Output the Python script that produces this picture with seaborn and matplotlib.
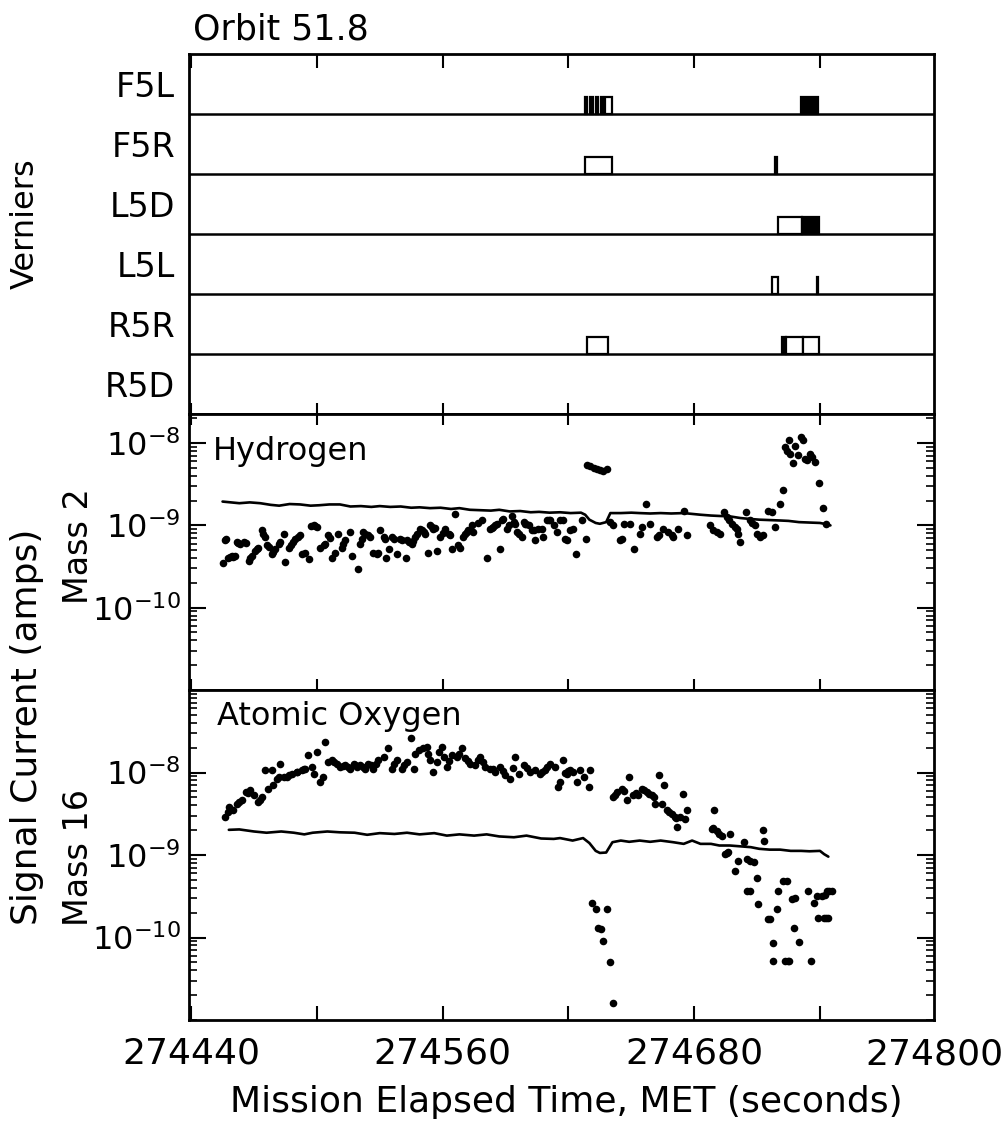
import numpy as np
import pandas as pd
import matplotlib
matplotlib.use("Agg")
import matplotlib.pyplot as plt
import matplotlib.ticker as mticker
import seaborn as sns

# vernier thruster firings (MET seconds)
vernier_rows = ["F5L", "F5R", "L5D", "L5L", "R5R", "R5D"]
fire_jet = ["F5L", "F5L", "F5L", "F5L", "F5L", "F5L",
            "F5R", "F5R",
            "L5D", "L5D",
            "L5L", "L5L",
            "R5R", "R5R", "R5R", "R5R"]
fire_start = [274628, 274630.5, 274633, 274635.5, 274637.5, 274731,
              274628, 274718.5,
              274720, 274731.5,
              274717, 274738.8,
              274629, 274722, 274724, 274732]
fire_end = [274629, 274631.5, 274634, 274636.5, 274641, 274739,
            274641, 274719.5,
            274731.5, 274739.5,
            274720, 274739.3,
            274639, 274724, 274732, 274739.5]
fire_solid = [1, 1, 1, 1, 0, 1, 0, 1, 0, 1, 0, 1, 0, 1, 0, 0]

# mass 2 (hydrogen) background level, log10 amps
h2_bg_time = [274455, 274459, 274463, 274468, 274473, 274478, 274482, 274487, 274492, 274497,
              274501, 274506, 274511, 274516, 274521, 274526, 274530, 274535, 274540, 274545,
              274549, 274554, 274559, 274564, 274568, 274573, 274578, 274583, 274587, 274592,
              274597, 274602, 274606, 274611, 274616, 274621, 274626, 274628, 274630, 274633,
              274635, 274638, 274640, 274645, 274650, 274654, 274659, 274664, 274669, 274675,
              274679, 274683, 274688, 274692, 274697, 274702, 274706, 274711, 274716, 274721,
              274725, 274730, 274735, 274740, 274743, 274745]
h2_bg_log = [-8.71, -8.72, -8.73, -8.72, -8.73, -8.75, -8.76, -8.74, -8.745, -8.76,
             -8.755, -8.745, -8.745, -8.77, -8.765, -8.775, -8.765, -8.775, -8.77, -8.785,
             -8.78, -8.79, -8.785, -8.80, -8.79, -8.81, -8.815, -8.82, -8.81, -8.83,
             -8.825, -8.84, -8.835, -8.845, -8.84, -8.85, -8.845, -8.87, -8.93, -8.97,
             -8.98, -8.96, -8.85, -8.85, -8.845, -8.85, -8.855, -8.85, -8.855, -8.85,
             -8.86, -8.87, -8.88, -8.885, -8.89, -8.91, -8.92, -8.93, -8.935, -8.94,
             -8.945, -8.96, -8.965, -8.97, -8.985, -9.0]

# mass 2 (hydrogen) measurements, log10 amps
h2_time = [274455.0, 274456.2, 274457.8, 274459.4, 274461.0, 274461.8, 274463.4, 274465.0, 274467.4, 274469.0,
           274470.6, 274472.1, 274473.7, 274475.3, 274476.1, 274478.5, 274480.1, 274481.7, 274484.1, 274484.9,
           274486.5, 274488.8, 274491.2, 274492.8, 274494.4, 274496.3, 274498.4, 274500.0, 274501.6, 274503.2,
           274505.5, 274507.1, 274508.7, 274510.3, 274511.9, 274513.5, 274515.6, 274516.7, 274519.4, 274520.6,
           274522.2, 274524.6, 274527.0, 274528.6, 274530.2, 274531.8, 274533.0, 274534.2, 274535.7, 274538.1,
           274539.7, 274542.4, 274542.9, 274545.3, 274546.9, 274549.3, 274550.9, 274552.8, 274554.0, 274555.6,
           274557.2, 274558.8, 274561.2, 274562.8, 274564.4, 274566.0, 274568.3, 274569.9, 274571.5, 274573.9,
           274574.7, 274578.7, 274581.1, 274582.6, 274584.2, 274585.8, 274587.4, 274589.0, 274590.6, 274593.0,
           274594.6, 274595.4, 274597.8, 274598.6, 274601.0, 274602.6, 274604.1, 274605.7,
           274458.6, 274466.0, 274477.0, 274487.5, 274497.3, 274521.4, 274536.9, 274544.0, 274547.8, 274550.0,
           274555.0, 274560.0, 274570.7, 274577.0, 274583.4, 274591.8, 274596.6, 274600.0,
           274456.8, 274460.2, 274462.6, 274468.2, 274471.4, 274474.5, 274479.3, 274482.5, 274489.6, 274492.0,
           274499.2, 274504.0, 274506.3, 274512.7, 274523.0, 274525.4, 274529.4, 274532.6, 274540.5, 274545.9,
           274551.7, 274556.4, 274563.6, 274567.2, 274572.3, 274585.0, 274588.2, 274594.0, 274599.4, 274603.4,
           274607.3, 274608.1, 274609.7, 274611.3, 274612.9, 274614.5, 274616.0, 274617.6, 274619.2, 274620.8,
           274622.4, 274623.7, 274626.4, 274628.4, 274639.9, 274641.5, 274644.7, 274646.3, 274649.4, 274651.3,
           274654.2, 274655.0, 274656.9, 274659.0, 274662.2, 274665.3, 274667.7, 274670.1, 274672.5, 274674.9,
           274676.5, 274687.6, 274689.2, 274692.4, 274694.0, 274695.5, 274697.9, 274700.3, 274701.1, 274701.9,
           274704.8, 274706.7, 274709.1, 274711.4, 274713.0, 274715.4, 274717.0, 274718.6, 274721.0, 274722.6,
           274724.2, 274725.0, 274727.3, 274728.1, 274729.7, 274730.8, 274732.1, 274733.7, 274735.3, 274737.7,
           274739.7, 274741.6, 274742.9, 274723.4, 274725.8, 274733.0, 274736.1,
           274610.5, 274618.4, 274645.5, 274663.0, 274669.3, 274690.8, 274696.7, 274699.5, 274707.5, 274710.2,
           274628.8, 274630.4, 274632.0, 274633.5, 274635.1, 274636.7, 274638.3]
h2_log = [-9.46, -9.18, -9.39, -9.37, -9.37, -9.20, -9.22, -9.20, -9.43, -9.37,
          -9.31, -9.27, -9.06, -9.14, -9.24, -9.35, -9.29, -9.22, -9.10, -9.45,
          -9.27, -9.20, -9.14, -9.35, -9.33, -9.41, -9.00, -9.02, -9.27, -9.24,
          -9.12, -9.39, -9.33, -9.10, -9.27, -9.18, -9.08, -9.37, -9.53, -9.22,
          -9.08, -9.12, -9.33, -9.35, -9.06, -9.14, -9.39, -9.29, -9.14, -9.35,
          -9.16, -9.39, -9.18, -9.22, -9.14, -9.04, -9.08, -9.33, -9.00, -9.04,
          -9.31, -9.14, -9.04, -9.10, -9.29, -8.86, -9.27, -9.14, -9.08, -9.00,
          -9.08, -8.94, -9.39, -9.04, -9.02, -8.98, -9.29, -8.92, -9.04, -8.88,
          -8.98, -9.08, -9.14, -8.96, -9.00, -9.06, -9.18, -9.04,
          -9.38, -9.21, -9.26, -9.24, -9.01, -9.16, -9.17, -9.20, -9.11, -9.06,
          -9.02, -9.09, -9.11, -8.97, -9.03, -8.99, -9.11, -8.98,
          -9.17, -9.38, -9.21, -9.40, -9.29, -9.10, -9.32, -9.20, -9.17, -9.12,
          -9.01, -9.22, -9.15, -9.22, -9.10, -9.14, -9.33, -9.16, -9.18, -9.19,
          -9.10, -9.03, -9.12, -9.24, -9.06, -9.00, -8.93, -8.96, -8.98, -9.05,
          -9.04, -9.14, -8.94, -8.94, -9.00, -9.08, -8.94, -8.94, -9.18, -9.06,
          -9.04, -9.35, -8.94, -9.16, -8.96, -9.00, -9.18, -8.98, -8.98, -9.29,
          -9.10, -9.02, -8.74, -8.98, -9.14, -9.04, -9.08, -9.14, -9.04, -8.82,
          -9.12, -9.00, -9.06, -9.10, -8.84, -8.90, -8.98, -9.04, -9.10, -9.20,
          -8.84, -8.94, -9.00, -9.14, -9.12, -8.82, -8.84, -9.02, -8.74, -8.57,
          -8.09, -7.96, -8.24, -8.03, -8.15, -7.92, -7.96, -8.21, -8.13, -8.23,
          -8.49, -8.79, -8.98, -8.05, -8.13, -8.19, -8.17,
          -8.94, -9.16, -9.16, -9.12, -9.12, -9.08, -8.94, -9.02, -8.97, -9.10,
          -8.26, -8.28, -8.30, -8.31, -8.33, -8.34, -8.32]

# mass 16 (atomic oxygen) background level, log10 amps
o_bg_time = [274458, 274463, 274470, 274476, 274483, 274489, 274494, 274498, 274505, 274511,
             274518, 274524, 274530, 274537, 274543, 274549, 274556, 274562, 274568, 274575,
             274581, 274587, 274594, 274600, 274607, 274613, 274616, 274622, 274627, 274630,
             274633, 274635, 274638, 274641, 274645, 274649, 274654, 274659, 274664, 274670,
             274675, 274679, 274683, 274688, 274692, 274697, 274702, 274707, 274711, 274716,
             274721, 274726, 274731, 274735, 274740, 274742, 274744]
o_bg_log = [-8.695, -8.69, -8.715, -8.73, -8.715, -8.73, -8.75, -8.73, -8.715, -8.725,
            -8.73, -8.755, -8.735, -8.745, -8.73, -8.75, -8.735, -8.765, -8.75, -8.765,
            -8.75, -8.775, -8.785, -8.765, -8.80, -8.805, -8.795, -8.825, -8.795, -8.855,
            -8.95, -8.975, -8.97, -8.845, -8.825, -8.84, -8.825, -8.84, -8.825, -8.845,
            -8.865, -8.825, -8.865, -8.865, -8.885, -8.885, -8.895, -8.905, -8.925, -8.935,
            -8.935, -8.95, -8.95, -8.955, -8.95, -8.99, -9.02]

# mass 16 (atomic oxygen) measurements, log10 amps
o_time = [274456.2, 274457.4, 274458.3, 274460.2, 274461.8, 274464.2, 274466.3, 274468.2, 274469.8, 274471.7,
          274473.7, 274475.3, 274476.9, 274478.5, 274479.3, 274480.9, 274482.5, 274484.1, 274485.7, 274488.0,
          274490.4, 274492.8, 274494.4, 274496.0, 274497.6, 274498.4, 274500.0, 274501.6, 274502.8, 274504.0,
          274505.5, 274507.1, 274509.5, 274511.1, 274513.5, 274515.9, 274517.5, 274519.1, 274520.6, 274523.0,
          274524.6, 274527.0, 274529.4, 274531.8, 274533.7, 274535.7, 274538.1, 274540.5, 274542.9, 274544.8,
          274546.1, 274548.5, 274550.5, 274552.4, 274554.0, 274555.6, 274557.2, 274559.6, 274560.7, 274562.0,
          274564.4, 274566.8, 274569.1, 274570.7, 274573.1, 274575.5, 274577.9, 274580.3, 274582.6, 274585.0,
          274587.4, 274589.8, 274592.2, 274594.6, 274596.2, 274598.6, 274601.7, 274604.1, 274606.5,
          274486.8, 274494.0, 274508.3, 274512.3, 274514.7, 274518.3, 274521.8, 274525.8, 274528.2, 274537.0,
          274541.7, 274547.0, 274553.2, 274558.4, 274563.2, 274568.0, 274572.0, 274576.7, 274579.1, 274584.0,
          274588.6, 274593.4, 274600.1, 274463.0, 274467.3, 274472.7, 274481.7, 274490.4,
          274607.3, 274608.9, 274611.3, 274613.7, 274615.2, 274616.0, 274617.6, 274619.2, 274620.8, 274622.4,
          274624.0, 274625.6, 274627.2, 274629.6, 274630.4, 274641.5, 274643.1, 274645.5, 274647.8, 274649.1,
          274651.0, 274653.4, 274655.0, 274657.4, 274659.8, 274661.4, 274663.4, 274664.5, 274665.6, 274666.9,
          274669.3, 274670.9, 274672.0, 274673.3, 274674.6, 274676.5, 274675.7, 274689.5, 274688.4, 274690.8,
          274693.2, 274694.7, 274696.3, 274697.1, 274699.5, 274701.1, 274703.8, 274705.1, 274706.7, 274708.3,
          274710.2, 274705.1, 274706.7, 274710.5, 274713.0, 274713.3, 274715.4, 274717.8, 274719.4, 274720.2,
          274722.6, 274724.2, 274717.5, 274723.4, 274725.0, 274726.5, 274728.1, 274727.7, 274730.2, 274734.5,
          274735.6, 274737.2, 274738.5, 274740.9, 274743.2, 274745.6, 274739.3, 274741.7, 274744.0,
          274631.1, 274633.2, 274634.3, 274635.4, 274636.7, 274638.3, 274639.6, 274641.2,
          274610.0, 274620.0, 274618.4, 274642.3, 274646.6, 274652.2, 274656.2, 274658.6, 274660.6, 274668.1,
          274671.5, 274689.0, 274692.0, 274695.5, 274716.2, 274724.6, 274743.0, 274742.2, 274744.4]
o_log = [-8.541, -8.48, -8.419, -8.46, -8.378, -8.338, -8.236, -8.216, -8.277, -8.358,
         -8.297, -7.972, -8.196, -7.972, -8.155, -8.074, -7.891, -8.053, -8.053, -8.013,
         -7.992, -7.972, -7.952, -7.789, -7.931, -8.013, -7.748, -8.114, -8.053, -7.626,
         -7.87, -7.85, -7.891, -7.931, -7.911, -7.952, -7.891, -7.931, -7.911, -7.952,
         -7.891, -7.952, -7.85, -7.809, -7.708, -7.952, -7.85, -7.952, -7.87, -7.586,
         -7.952, -7.728, -7.708, -7.687, -7.85, -7.992, -7.87, -7.687, -7.809, -7.931,
         -7.789, -7.809, -7.708, -7.83, -7.891, -7.911, -7.809, -7.931, -7.952, -7.992,
         -7.931, -8.033, -8.074, -7.809, -8.013, -7.911, -7.992, -7.972, -8.013,
         -8.03, -7.96, -7.87, -7.92, -7.93, -7.91, -7.93, -7.91, -7.90, -7.90,
         -7.91, -7.78, -7.77, -7.75, -7.86, -7.77, -7.86, -7.85, -7.87, -7.96,
         -7.98, -7.94, -7.95, -8.36, -8.25, -8.33, -8.06, -7.99,
         -7.992, -7.972, -7.891, -7.931, -8.175, -8.114, -7.85, -8.013, -7.972, -7.992,
         -8.114, -7.972, -8.053, -8.175, -7.972, -8.297, -8.236, -8.196, -8.338, -8.053,
         -8.277, -8.277, -8.196, -8.236, -8.277, -8.378, -8.033, -8.378, -8.155, -8.46,
         -8.5, -8.541, -8.663, -8.541, -8.256, -8.46, -8.561, -8.46, -8.683, -8.704,
         -8.765, -8.988, -8.968, -8.744, -9.191, -9.069, -8.846, -9.049, -9.069, -9.09,
         -9.273, -9.435, -9.435, -9.598, -8.691, -8.826, -9.781, -10.065, -9.659, -9.435,
         -9.313, -9.313, -10.289, -10.289, -10.289, -9.537, -9.517, -9.883, -10.057, -9.435,
         -10.289, -9.577, -9.496, -9.496, -9.435, -9.435, -9.761, -9.761, -9.761,
         -9.577, -9.659, -9.883, -9.895, -10.045, -9.659, -10.297, -10.797,
         -7.93, -7.98, -8.01, -8.27, -8.22, -8.25, -8.21, -8.26, -8.30, -8.48,
         -8.55, -8.67, -8.74, -8.98, -9.78, -10.29, -9.76, -9.48, -9.44]

h2 = pd.DataFrame({"time": h2_time, "amps": 10.0 ** np.array(h2_log)})
h2_bg = pd.DataFrame({"time": h2_bg_time, "amps": 10.0 ** np.array(h2_bg_log)})
ox = pd.DataFrame({"time": o_time, "amps": 10.0 ** np.array(o_log)})
ox_bg = pd.DataFrame({"time": o_bg_time, "amps": 10.0 ** np.array(o_bg_log)})
fires = pd.DataFrame({"jet": fire_jet, "start": fire_start, "end": fire_end, "solid": fire_solid})

sns.set_theme(style="ticks")
plt.rcParams["font.family"] = ["DejaVu Sans"]
plt.rcParams["mathtext.fontset"] = "dejavusans"
for key in ("text.color", "axes.labelcolor", "xtick.color", "ytick.color", "axes.edgecolor"):
    plt.rcParams[key] = "black"

W, H = 1008, 1138
fig = plt.figure(figsize=(W / 100, H / 100), dpi=100)
left, width = 189 / W, 745 / W
ax_v = fig.add_axes([left, 1 - 414 / H, width, 360 / H])
ax_h = fig.add_axes([left, 1 - 690 / H, width, 276 / H])
ax_o = fig.add_axes([left, 1 - 1020 / H, width, 330 / H])

xmin, xmax = 274439, 274794.4
lw_frame = 2.0

# verniers
n = len(vernier_rows)
for _, f in fires.iterrows():
    base = n - 1 - vernier_rows.index(f["jet"])
    ax_v.bar(f["start"], 0.28, width=f["end"] - f["start"], bottom=base, align="edge",
             color="black" if f["solid"] else "white", edgecolor="black", linewidth=1.6, zorder=3)
for y in range(1, n):
    ax_v.axhline(y, color="black", lw=1.8, zorder=2)
ax_v.set_ylim(0, n)
ax_v.set_yticks([n - 0.5 - i for i in range(n)])
ax_v.set_yticklabels(vernier_rows, fontsize=24)
ax_v.tick_params(axis="y", length=0, pad=10)


def exp_label(v, pos):
    e = int(round(np.log10(v)))
    return r"$\mathregular{10^{" + str(e) + "}}$"


# mass spectrometer panels
for ax, pts, bg, ylim in [(ax_h, h2, h2_bg, (1e-11, 2.26e-8)), (ax_o, ox, ox_bg, (1e-11, 1e-7))]:
    sns.lineplot(data=bg, x="time", y="amps", ax=ax, color="black", lw=1.9, estimator=None)
    sns.scatterplot(data=pts, x="time", y="amps", ax=ax, color="black", s=30, linewidth=0)
    ax.set_yscale("log")
    ax.set_ylim(*ylim)
    ax.yaxis.set_major_locator(mticker.FixedLocator([1e-10, 1e-9, 1e-8]))
    ax.yaxis.set_major_formatter(mticker.FuncFormatter(exp_label))
    ax.yaxis.set_minor_locator(mticker.LogLocator(base=10, subs=(1, 2, 3, 4, 5, 6, 7, 8, 9), numticks=40))
    ax.yaxis.set_minor_formatter(mticker.NullFormatter())
    ax.tick_params(axis="y", which="major", direction="in", left=True, right=True,
                   length=12, width=1.5, labelsize=23, pad=6)
    ax.tick_params(axis="y", which="minor", direction="in", left=True, right=True,
                   length=6, width=1.2)
    ax.set_xlabel("")
    ax.set_ylabel("")

for ax in (ax_v, ax_h, ax_o):
    ax.set_xlim(xmin, xmax)
    ax.xaxis.set_major_locator(mticker.MultipleLocator(60))
    for sp in ax.spines.values():
        sp.set_visible(True)
        sp.set_linewidth(lw_frame)
        sp.set_color("black")
    ax.set_facecolor("white")

ax_v.tick_params(axis="x", direction="in", top=True, bottom=False, labelbottom=False,
                 length=10, width=1.5)
ax_h.tick_params(axis="x", direction="inout", top=True, bottom=True, labelbottom=False,
                 length=16, width=1.5)
ax_o.tick_params(axis="x", direction="in", top=False, bottom=True, labelbottom=True,
                 length=10, width=1.5, labelsize=26, pad=12)
ax_o.xaxis.set_major_formatter(mticker.FuncFormatter(
    lambda v, p: f"{v:.0f}" if round(v - 274440) % 120 == 0 else ""))
ax_o.text(1.0, -0.052, "274800", transform=ax_o.transAxes, ha="center", va="top", fontsize=26)

ax_h.text(0.032, 0.833, "Hydrogen", transform=ax_h.transAxes, fontsize=23, va="baseline")
ax_o.text(0.038, 0.894, "Atomic Oxygen", transform=ax_o.transAxes, fontsize=23, va="baseline")

fig.text(193 / W, 1 - 40 / H, "Orbit 51.8", fontsize=25, ha="left", va="baseline")
fig.text(25 / W, 1 - 224 / H, "Verniers", rotation=90, fontsize=23, ha="center", va="center")
fig.text(27 / W, 1 - 727 / H, "Signal Current (amps)", rotation=90, fontsize=26, ha="center", va="center")
fig.text(78 / W, 1 - 546 / H, "Mass 2", rotation=90, fontsize=24, ha="center", va="center")
fig.text(78 / W, 1 - 858 / H, "Mass 16", rotation=90, fontsize=24, ha="center", va="center")
fig.text(566 / W, 1 - 1102 / H, "Mission Elapsed Time, MET (seconds)", fontsize=26,
         ha="center", va="center")

fig.savefig("out.png", dpi=100, facecolor="white")
